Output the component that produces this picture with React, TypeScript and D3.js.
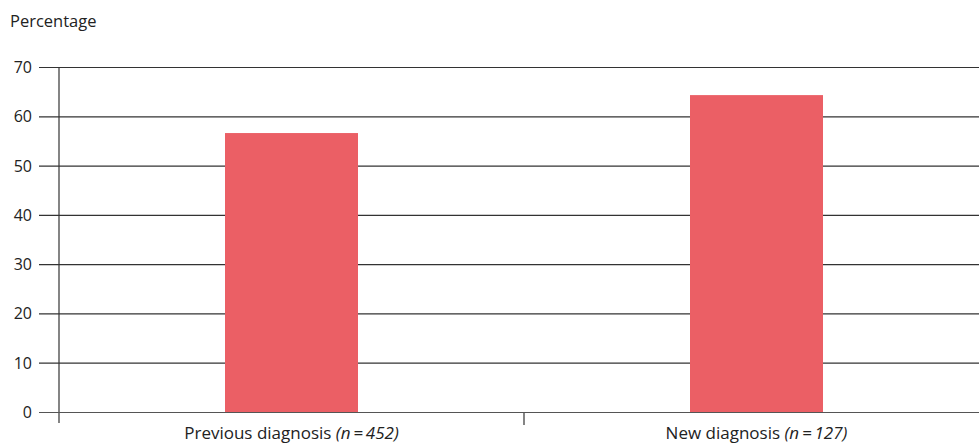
import React from "react";
import * as d3 from "d3";

const categories = ["Previous diagnosis", "New diagnosis"];
const sampleSizes = ["452", "127"];
const values = [56.7, 64.4];
const yTicks = [0, 10, 20, 30, 40, 50, 60, 70];
const yLabel = "Percentage";

const W = 979;
const H = 443;
const FONT = "'Open Sans', 'Noto Sans', sans-serif";

export default function App() {
  const x = d3.scaleBand<string>().domain(categories).range([59, 989]).padding(0);
  const y = d3.scaleLinear().domain([0, 70]).range([412.5, 67.5]);
  const barW = x.bandwidth() * 0.286;
  return (
    <svg
      width={W}
      height={H}
      style={{ position: "absolute", left: 0, top: 0, background: "#fff" }}
      fontFamily={FONT}
    >
      <text x={10} y={27} fontSize={16.5} fill="#222">{yLabel}</text>
      {yTicks.map((t) => (
        <g key={t}>
          <line x1={39} x2={W} y1={y(t)} y2={y(t)} stroke="#333" strokeWidth={1.2} />
          <text x={32} y={y(t) + 5.5} textAnchor="end" fontSize={16} fill="#222">{t}</text>
        </g>
      ))}
      {categories.map((c, i) => (
        <rect
          key={c}
          x={x(c)! + x.bandwidth() / 2 - barW / 2}
          y={y(values[i])}
          width={barW}
          height={y(0) - y(values[i])}
          fill="#EB5F65"
        />
      ))}
      <line x1={59} x2={59} y1={67} y2={423} stroke="#333" strokeWidth={1.2} />
      {categories.slice(1).map((c) => (
        <line key={c} x1={x(c)!} x2={x(c)!} y1={412} y2={425} stroke="#333" strokeWidth={1.2} />
      ))}
      <line x1={39} x2={W} y1={y(0)} y2={y(0)} stroke="#555" strokeWidth={1.2} />
      {categories.map((c, i) => (
        <text key={c} x={x(c)! + x.bandwidth() / 2} y={439} textAnchor="middle" fontSize={17} fill="#222">
          {c} <tspan fontStyle="italic">(n{"\u2009=\u2009"}{sampleSizes[i]})</tspan>
        </text>
      ))}
    </svg>
  );
}
